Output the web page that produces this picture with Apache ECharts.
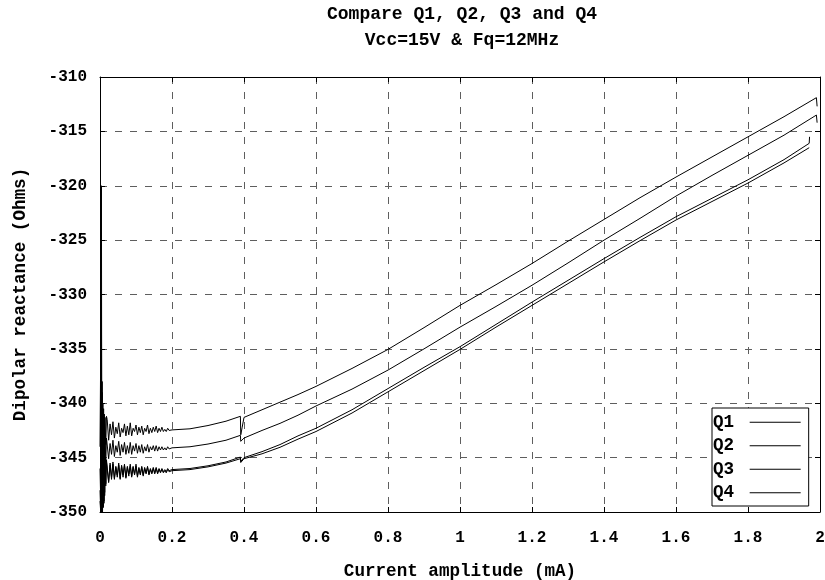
<!DOCTYPE html>
<html>
<head>
<meta charset="utf-8">
<script src="https://cdn.jsdelivr.net/npm/echarts@6/dist/echarts.min.js"></script>
<style>html,body{margin:0;padding:0;background:#fff}#c{width:825px;height:580px}</style>
</head>
<body>
<div id="c"></div>
<script>
// ---- data ----
const seriesNames = ['Q1', 'Q2', 'Q3', 'Q4'];
const xTicks = [0, 0.2, 0.4, 0.6, 0.8, 1, 1.2, 1.4, 1.6, 1.8, 2];
const yTicks = [-350, -345, -340, -335, -330, -325, -320, -315, -310];

// start-up transient (0 .. 0.018 mA)
const startX = [0, 0.002, 0.004, 0.005, 0.006, 0.007, 0.008, 0.009, 0.010, 0.011, 0.012, 0.013, 0.014, 0.016, 0.018];
const q1Start = [-344, -335, -320, -350, -338, -348, -340, -347, -340.5, -345.5, -341, -344.5, -341.3, -343.8, -341.2];
const q2Start = [-346, -349, -330, -350, -339, -349, -341.5, -348, -342, -347, -342.6, -346, -343, -345.4, -343.2];
const q3Start = [-348, -350, -336, -350, -341, -349.8, -343, -349.5, -344, -349, -344.6, -348.2, -345, -347.4, -345.2];
const q4Start = [-349, -350, -340, -350, -342, -350, -344, -349.6, -344.5, -349.2, -345, -348.5, -345.3, -347.6, -345.4];

// noisy low-current region (0.02 .. 0.2 mA)
const noiseX = [0.020, 0.024, 0.028, 0.032, 0.036, 0.040, 0.044, 0.048, 0.052, 0.056, 0.060, 0.064, 0.068, 0.072, 0.076, 0.080, 0.084, 0.088, 0.092, 0.096, 0.100, 0.104, 0.108, 0.112, 0.116, 0.120, 0.124, 0.128, 0.132, 0.136, 0.140, 0.144, 0.148, 0.152, 0.156, 0.160, 0.164, 0.168, 0.172, 0.176, 0.180, 0.184, 0.188, 0.192, 0.196, 0.200];
const q1Noise = [-341.5, -343.4, -341.9, -342.9, -341.7, -343.2, -342.2, -342.8, -341.8, -343.1, -342.3, -342.7, -341.9, -343.0, -342.1, -342.9, -341.8, -343.0, -342.3, -342.6, -342.0, -342.9, -342.2, -342.7, -342.1, -342.9, -342.3, -342.6, -342.0, -342.8, -342.3, -342.7, -342.2, -342.6, -342.1, -342.7, -342.3, -342.6, -342.2, -342.6, -342.4, -342.6, -342.3, -342.5, -342.4, -342.45];
const q2Noise = [-343.2, -345.1, -343.7, -344.7, -343.4, -344.9, -343.9, -344.5, -343.5, -344.8, -343.8, -344.5, -343.6, -344.7, -343.9, -344.6, -343.6, -344.7, -343.9, -344.4, -343.7, -344.6, -343.9, -344.5, -343.8, -344.6, -344.0, -344.4, -343.8, -344.5, -344.0, -344.3, -343.9, -344.4, -343.9, -344.4, -344.0, -344.3, -344.0, -344.3, -344.1, -344.3, -344.0, -344.2, -344.1, -344.1];
const q3Noise = [-345.1, -347.2, -345.5, -346.8, -345.4, -346.9, -345.8, -346.6, -345.5, -346.9, -345.7, -346.6, -345.6, -346.8, -345.8, -346.5, -345.6, -346.7, -345.8, -346.5, -345.6, -346.7, -345.9, -346.5, -345.8, -346.6, -345.9, -346.4, -345.8, -346.5, -346.0, -346.4, -345.9, -346.4, -345.9, -346.4, -346.0, -346.3, -346.0, -346.3, -346.1, -346.3, -346.0, -346.2, -346.1, -346.1];
const q4Noise = [-345.4, -347.3, -345.7, -347.0, -345.6, -347.0, -345.9, -346.8, -345.7, -347.0, -345.8, -346.8, -345.7, -346.9, -345.9, -346.7, -345.8, -346.8, -345.9, -346.6, -345.8, -346.8, -346.0, -346.6, -345.9, -346.7, -346.0, -346.5, -345.9, -346.6, -346.1, -346.5, -346.0, -346.5, -346.0, -346.5, -346.1, -346.4, -346.1, -346.4, -346.2, -346.4, -346.1, -346.3, -346.2, -346.2];

// smooth region (0.25 .. 1.9 mA), with the glitch near 0.39 mA
const curveX = [0.25, 0.3, 0.35, 0.39, 0.391, 0.395, 0.4, 0.45, 0.5, 0.55, 0.6, 0.7, 0.8, 0.9, 1.0, 1.1, 1.2, 1.3, 1.4, 1.5, 1.6, 1.7, 1.8, 1.9];
const q1Curve = [-342.35, -342.05, -341.65, -341.2, -342.9, -342.2, -341.3, -340.6, -339.9, -339.2, -338.45, -336.8, -335.05, -333.05, -331.0, -329.1, -327.15, -325.1, -323.1, -321.1, -319.2, -317.35, -315.5, -313.65];
const q2Curve = [-344.0, -343.75, -343.4, -342.95, -343.5, -343.45, -343.2, -342.5, -341.85, -341.1, -340.25, -338.7, -336.95, -335.0, -333.0, -331.1, -329.15, -327.1, -325.0, -323.0, -320.95, -319.05, -317.2, -315.35];
const q3Curve = [-346.0, -345.75, -345.4, -344.95, -345.35, -345.25, -345.0, -344.45, -343.8, -343.0, -342.3, -340.6, -338.65, -336.7, -334.8, -332.75, -330.7, -328.7, -326.7, -324.75, -322.85, -321.15, -319.45, -317.6];
const q4Curve = [-346.1, -345.85, -345.5, -345.1, -345.45, -345.35, -345.1, -344.65, -344.05, -343.3, -342.6, -340.9, -338.95, -337.0, -335.05, -333.0, -331.0, -329.0, -327.0, -325.05, -323.15, -321.45, -319.75, -317.9];

// last points of each sweep
const q1TailX = [1.99, 1.992];
const q1Tail = [-311.9, -312.7];
const q2TailX = [1.99, 1.992];
const q2Tail = [-313.5, -314.2];
const q3TailX = [1.97, 1.971];
const q3Tail = [-316.1, -315.5];
const q4TailX = [1.97];
const q4Tail = [-316.5];

// ---- build ----
function zip(xs, ys) { return xs.map((x, i) => [x, ys[i]]); }
function build(start, noise, curve, tailX, tail) {
  return zip(startX, start).concat(zip(noiseX, noise), zip(curveX, curve), zip(tailX, tail));
}
const allData = [
  build(q1Start, q1Noise, q1Curve, q1TailX, q1Tail),
  build(q2Start, q2Noise, q2Curve, q2TailX, q2Tail),
  build(q3Start, q3Noise, q3Curve, q3TailX, q3Tail),
  build(q4Start, q4Noise, q4Curve, q4TailX, q4Tail)
];

const FONT = '"Liberation Mono", "DejaVu Sans Mono", monospace';
const chart = echarts.init(document.getElementById('c'), null, { renderer: 'canvas' });
const gridDash = { color: '#5e5e5e', width: 1, type: [7, 8] };

chart.setOption({
  animation: false,
  backgroundColor: '#fff',
  title: {
    text: 'Compare Q1, Q2, Q3 and Q4\nVcc=15V & Fq=12MHz',
    left: 462, top: 1, padding: 0, textAlign: 'center',
    textStyle: { fontFamily: FONT, fontWeight: 'bold', fontSize: 18, color: '#000', lineHeight: 26 }
  },
  legend: {
    data: seriesNames,
    orient: 'vertical', align: 'right',
    left: 712, top: 408,
    padding: [5, 8, 4, 1],
    itemGap: 5,
    itemWidth: 51, itemHeight: 1,
    icon: 'rect',
    formatter: n => n + ' ',
    backgroundColor: '#fff', borderColor: '#000', borderWidth: 1,
    itemStyle: { color: '#000' },
    textStyle: { fontFamily: FONT, fontWeight: 'bold', fontSize: 17.6, color: '#000', lineHeight: 18.5 }
  },
  grid: { left: 100, right: 5, top: 77, bottom: 68, show: false, containLabel: false, outerBoundsMode: 'none' },
  xAxis: [{
    type: 'value', min: 0, max: 2, interval: 0.2, position: 'bottom',
    name: 'Current amplitude (mA)', nameLocation: 'middle', nameGap: 51,
    nameTextStyle: { fontFamily: FONT, fontWeight: 'bold', fontSize: 17.6, color: '#000' },
    axisLine: { onZero: false, lineStyle: { color: '#000', width: 1 } },
    axisTick: { inside: true, length: 5, lineStyle: { color: '#000' } },
    axisLabel: { margin: 18, fontFamily: FONT, fontWeight: 'bold', fontSize: 16, color: '#000',
      formatter: v => { const t = xTicks.find(k => Math.abs(k - v) < 1e-9); return String(t !== undefined ? t : v); } },
    splitLine: { show: true, lineStyle: gridDash }
  }, {
    type: 'value', min: 0, max: 2, interval: 0.2, position: 'top',
    axisLine: { onZero: false, lineStyle: { color: '#000', width: 1 } },
    axisTick: { inside: true, length: 5, lineStyle: { color: '#000' } },
    axisLabel: { show: false }, splitLine: { show: false }
  }],
  yAxis: [{
    type: 'value', min: -350, max: -310, interval: 5, position: 'left',
    name: 'Dipolar reactance (Ohms)', nameLocation: 'middle', nameGap: 70, nameRotate: 90,
    nameTextStyle: { fontFamily: FONT, fontWeight: 'bold', fontSize: 17.6, color: '#000' },
    axisLine: { onZero: false, lineStyle: { color: '#000', width: 1 } },
    axisTick: { inside: true, length: 5, lineStyle: { color: '#000' } },
    axisLabel: { margin: 13, fontFamily: FONT, fontWeight: 'bold', fontSize: 16, color: '#000' },
    splitLine: { show: true, lineStyle: gridDash }
  }, {
    type: 'value', min: -350, max: -310, interval: 5, position: 'right',
    axisLine: { onZero: false, lineStyle: { color: '#000', width: 1 } },
    axisTick: { inside: true, length: 5, lineStyle: { color: '#000' } },
    axisLabel: { show: false }, splitLine: { show: false }
  }],
  series: seriesNames.map((n, i) => ({
    name: n, type: 'line', xAxisIndex: 0, yAxisIndex: 0,
    data: allData[i], showSymbol: false, symbol: 'none',
    lineStyle: { color: '#000', width: 1 }, itemStyle: { color: '#000' },
    z: 3
  }))
});
</script>
</body>
</html>
